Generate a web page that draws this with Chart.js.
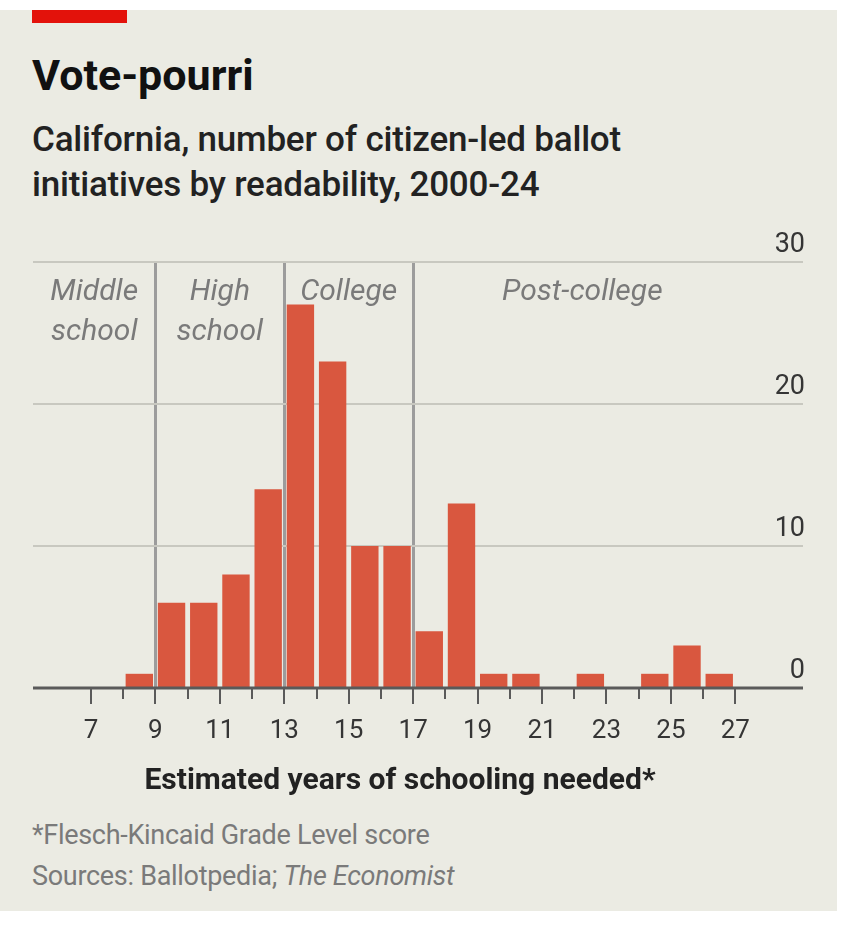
<!DOCTYPE html>
<html>
<head>
<meta charset="utf-8">
<script src="https://cdn.jsdelivr.net/npm/chart.js@4.4.1/dist/chart.umd.min.js"></script>
<style>
  html, body { margin: 0; padding: 0; background: #fff; }
  body { width: 842px; height: 930px; position: relative; overflow: hidden; font-family: Roboto, "Noto Sans", sans-serif; }
  .panel { position: absolute; left: 0; top: 10px; width: 837px; height: 901px; background: #ebebe3; }
  .redbar { position: absolute; left: 32px; top: 10px; width: 95px; height: 13px; background: #e3120b; }
  .title { position: absolute; left: 32px; top: 50px; font-size: 43px; font-weight: 700; color: #111; letter-spacing: 0; }
  .subtitle { position: absolute; left: 32px; top: 117px; font-size: 35px; font-weight: 500; color: #222; line-height: 45px; letter-spacing: -0.2px; }
  .chartbox { position: absolute; left: 0; top: 230px; width: 842px; height: 544px; }
  .xtitle { position: absolute; left: 0; top: 761px; width: 800px; text-align: center; font-size: 30px; line-height: 36px; font-weight: 700; color: #222; }
  .note { position: absolute; left: 32px; font-size: 27px; color: #7a7a7a; letter-spacing: -0.3px; }
</style>
</head>
<body>
<div class="panel"></div>
<div class="redbar"></div>
<div class="title">Vote-pourri</div>
<div class="subtitle">California, number of citizen-led ballot<br>initiatives by readability, 2000-24</div>
<div class="chartbox"><canvas id="chart"></canvas></div>
<div class="xtitle">Estimated years of schooling needed*</div>
<div class="note" style="top:819px">*Flesch-Kincaid Grade Level score</div>
<div class="note" style="top:860px">Sources: Ballotpedia; <i>The Economist</i></div>

<script>
// histogram bins: centre of each one-year bin, and count of initiatives
const binCentres = [8.5, 9.5, 10.5, 11.5, 12.5, 13.5, 14.5, 15.5, 16.5, 17.5, 18.5, 19.5, 20.5, 21.5, 22.5, 23.5, 24.5, 25.5, 26.5];
const counts     = [1,   6,   6,    8,    14,   27,   23,   10,   10,   4,    13,   1,    1,    0,    1,    0,    1,    3,    1];

const yTicks = [0, 10, 20, 30];
const sectionBreaks = [9, 13, 17];
const bands = [
  { lines: ['Middle', 'school'], from: 5.2, to: 9 },
  { lines: ['High', 'school'], from: 9, to: 13 },
  { lines: ['College'], from: 13, to: 17 },
  { lines: ['Post-college'], from: 17, to: 27.5 }
];

const barColour = '#d9573f';
const textColour = '#353535';

const extras = {
  id: 'extras',
  beforeDatasetsDraw(chart) {
    const { ctx, scales: { x }, chartArea } = chart;
    ctx.save();
    ctx.font = 'italic 30px Roboto';
    ctx.fillStyle = '#7a7a7a';
    ctx.textAlign = 'center';
    ctx.textBaseline = 'alphabetic';
    bands.forEach(b => {
      const cx = x.getPixelForValue((b.from + b.to) / 2);
      b.lines.forEach((ln, i) => ctx.fillText(ln, cx, chartArea.top + 38 + i * 40));
    });
    ctx.restore();
  },
  afterDatasetsDraw(chart) {
    const { ctx, scales: { x, y }, chartArea } = chart;
    const base = y.getPixelForValue(0);
    ctx.save();
    ctx.strokeStyle = '#5a5a5a';
    ctx.lineWidth = 3;
    ctx.beginPath();
    ctx.moveTo(chartArea.left, base);
    ctx.lineTo(chartArea.right, base);
    ctx.stroke();
    ctx.lineWidth = 2;
    for (let v = 7; v <= 27; v++) {
      const px = Math.round(x.getPixelForValue(v));
      ctx.beginPath();
      ctx.moveTo(px, base);
      ctx.lineTo(px, base + (v % 2 ? 16 : 11));
      ctx.stroke();
    }
    ctx.restore();
  }
};

new Chart(document.getElementById('chart'), {
  type: 'bar',
  data: {
    datasets: [{
      data: binCentres.map((c, i) => ({ x: c, y: counts[i] })),
      backgroundColor: barColour,
      barPercentage: 0.85,
      categoryPercentage: 1
    }]
  },
  options: {
    responsive: true,
    maintainAspectRatio: false,
    animation: false,
    layout: { padding: { left: 33, right: 35, top: 32, bottom: 0 } },
    plugins: { legend: { display: false }, tooltip: { enabled: false } },
    scales: {
      x: {
        type: 'linear',
        min: 5.2,
        max: 29.1,
        offset: false,
        border: { display: false },
        grid: {
          offset: false,
          drawTicks: false,
          color: c => sectionBreaks.includes(c.tick && c.tick.value) ? '#9c9c9c' : 'rgba(0,0,0,0)',
          lineWidth: 3
        },
        afterBuildTicks: s => { s.ticks = []; for (let v = 6; v <= 29; v++) s.ticks.push({ value: v }); },
        ticks: {
          autoSkip: false,
          maxRotation: 0,
          padding: 30,
          color: textColour,
          font: { family: 'Roboto', size: 26, lineHeight: 1.0 },
          callback: v => (v >= 7 && v <= 27 && v % 2 === 1) ? String(v) : ''
        }
      },
      y: {
        position: 'right',
        min: 0,
        max: 30,
        border: { display: false },
        afterBuildTicks: s => { s.ticks = yTicks.map(v => ({ value: v })); },
        grid: {
          drawTicks: false,
          color: c => c.tick && c.tick.value === 0 ? 'rgba(0,0,0,0)' : '#c8c8c0',
          lineWidth: 2
        },
        ticks: {
          mirror: true,
          padding: 2,
          labelOffset: -17,
          color: textColour,
          font: { family: 'Roboto', size: 27 }
        }
      }
    }
  },
  plugins: [extras]
});
</script>
</body>
</html>
